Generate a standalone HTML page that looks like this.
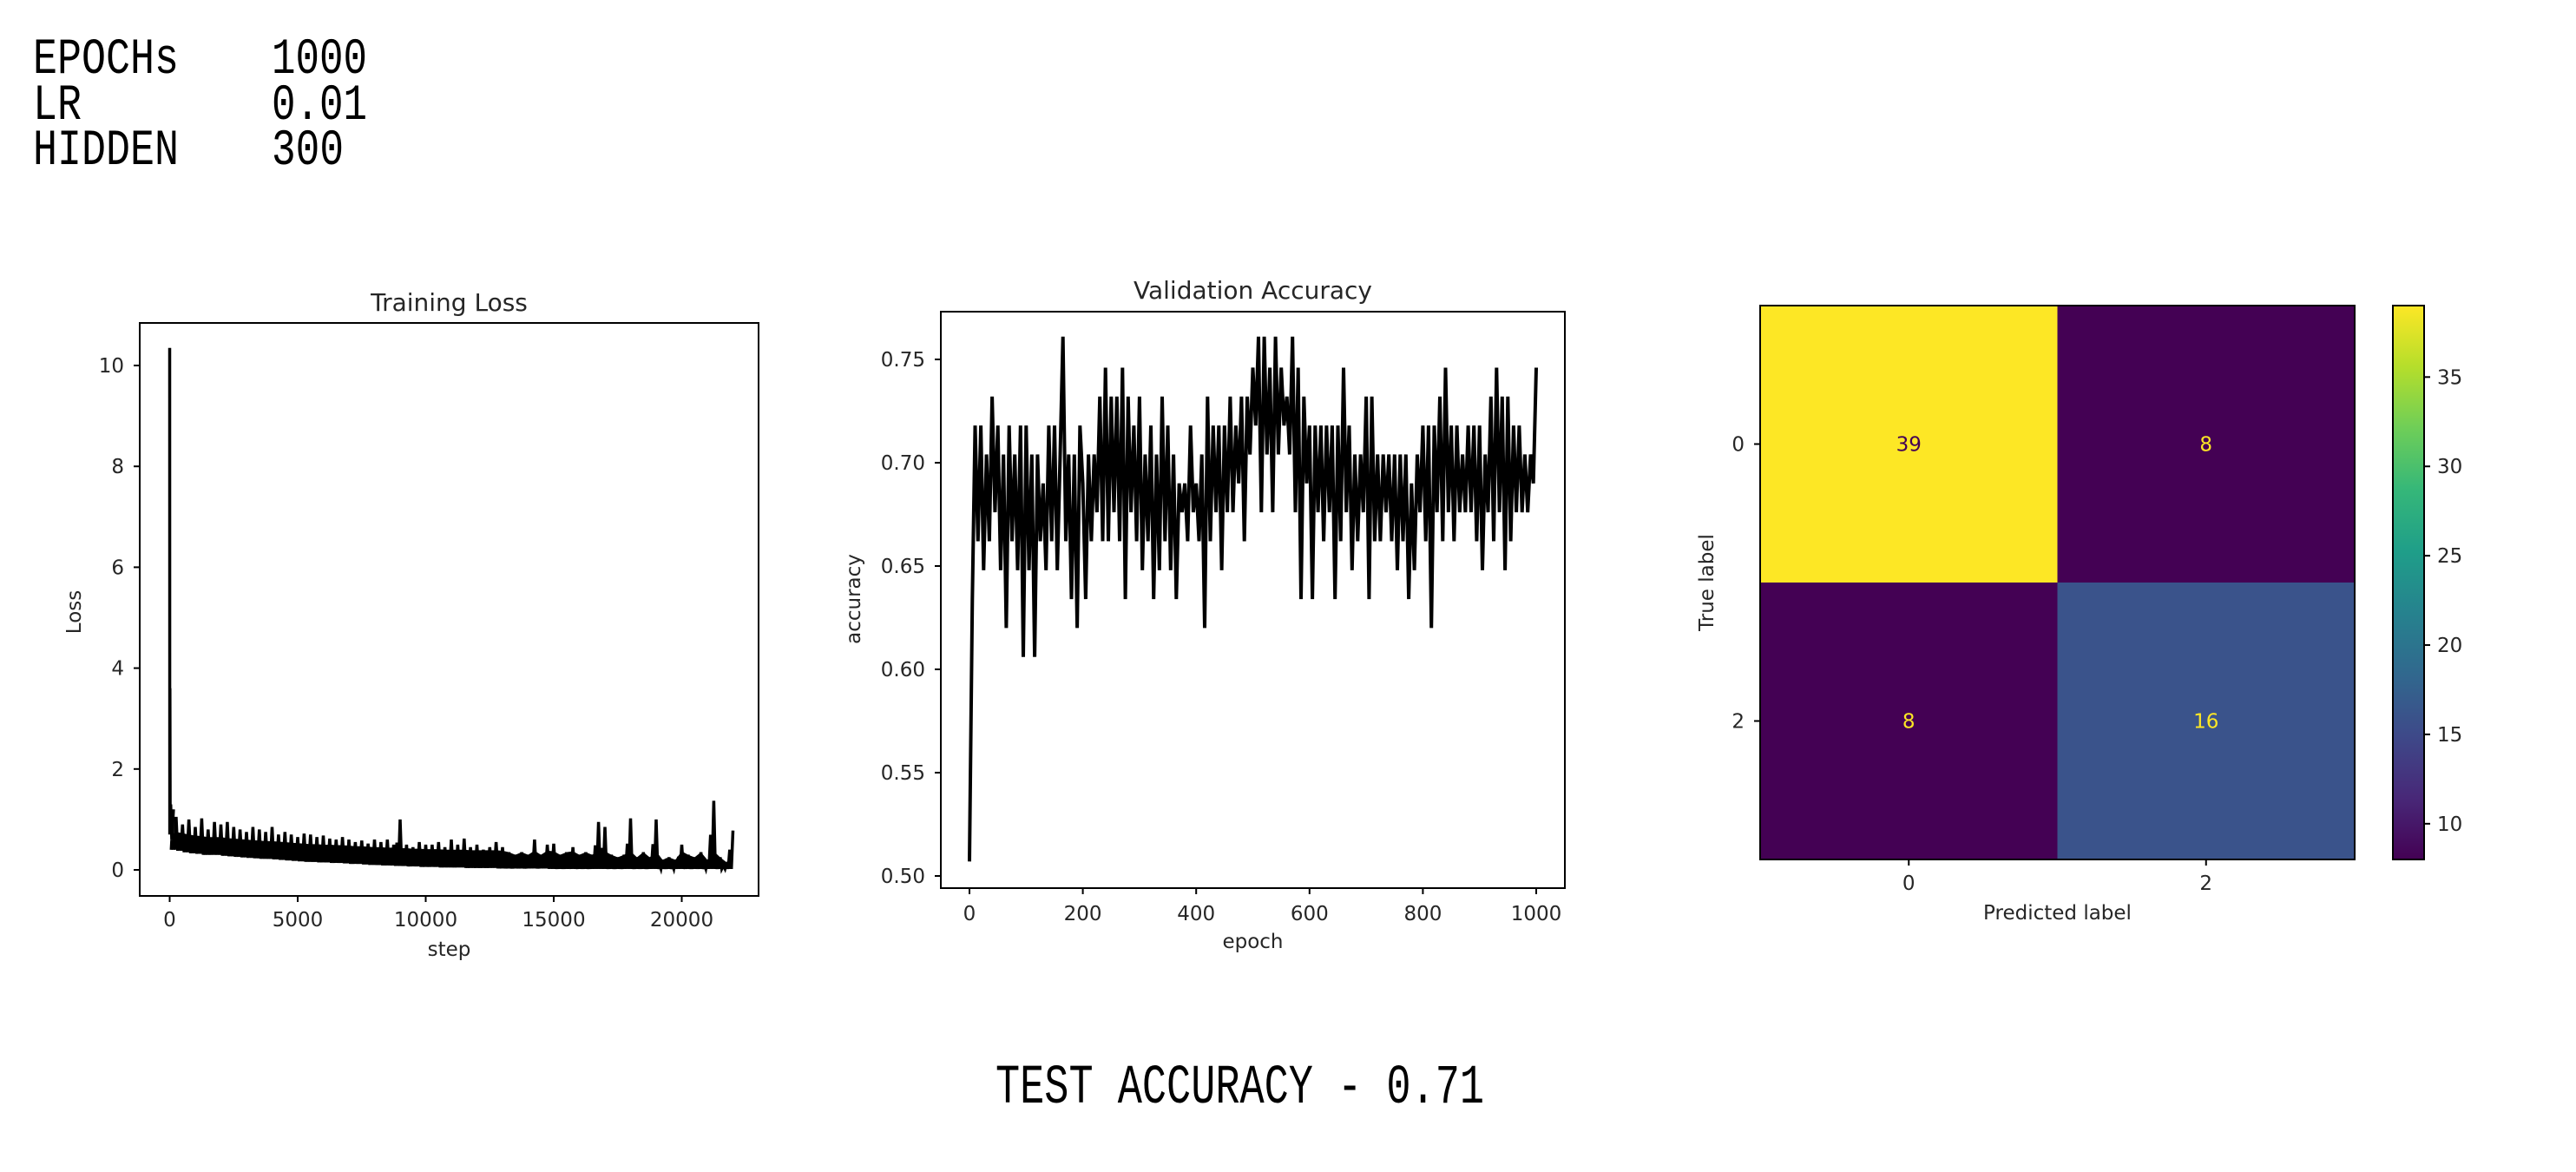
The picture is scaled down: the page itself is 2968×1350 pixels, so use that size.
<!DOCTYPE html>
<html><head><meta charset="utf-8"><style>
html,body{margin:0;padding:0;background:#fff;}
svg{display:block;}
text{font-family:"DejaVu Sans","Liberation Sans",sans-serif;fill:#262626;}
.mono{font-family:"Liberation Mono",monospace;fill:#000;}
</style></head><body>
<svg id="root" width="2968" height="1350" viewBox="0 0 2968 1350" xmlns="http://www.w3.org/2000/svg">
<g>
<text class="mono" x="38" y="84" font-size="58" textLength="168" lengthAdjust="spacingAndGlyphs">EPOCHs</text>
<text class="mono" x="313" y="84" font-size="58" textLength="110" lengthAdjust="spacingAndGlyphs">1000</text>
<text class="mono" x="38" y="137" font-size="58" textLength="56" lengthAdjust="spacingAndGlyphs">LR</text>
<text class="mono" x="313" y="137" font-size="58" textLength="110" lengthAdjust="spacingAndGlyphs">0.01</text>
<text class="mono" x="38" y="189" font-size="58" textLength="168" lengthAdjust="spacingAndGlyphs">HIDDEN</text>
<text class="mono" x="313" y="189" font-size="58" textLength="83" lengthAdjust="spacingAndGlyphs">300</text>
</g>
<text class="mono" x="1147" y="1270" font-size="64" textLength="563" lengthAdjust="spacingAndGlyphs">TEST ACCURACY - 0.71</text>
<g id="loss"></g>
<g id="acc"></g>
<g id="cm"></g>
</svg>
<script>
// ---- Training loss data ----
const lossHeadSteps = [0, 5, 10, 20, 40, 80, 150];
const lossHeadValues = [10.35, 0.7, 3.6, 0.9, 1.3, 0.6, 1.2];
const lossStepInterval = 250;
const lossHigh = [
1.05,0.9,1.0,0.85,1.02,0.8,0.95,0.9,
0.95,0.85,0.8,0.75,0.85,0.8,0.75,0.85,
0.7,0.75,0.7,0.65,0.72,0.7,0.65,0.68,
0.62,0.6,0.65,0.6,0.55,0.58,0.52,0.6,
0.55,0.6,0.5,1.0,0.5,0.45,0.55,0.5,
0.5,0.55,0.45,0.6,0.5,0.62,0.45,0.5,
0.4,0.45,0.55,0.45,0.35,0.3,0.35,0.3,
0.6,0.3,0.5,0.52,0.3,0.35,0.45,0.3,
0.35,0.3,0.95,0.85,0.3,0.25,0.3,1.02,
0.25,0.35,0.25,1.0,0.2,0.25,0.2,0.5,
0.3,0.25,0.35,0.2,1.37,0.25,0.15,0.78];
const lossLow = [
0.4,0.38,0.35,0.33,0.32,0.3,0.3,0.3,
0.28,0.27,0.26,0.25,0.24,0.23,0.22,0.22,
0.21,0.2,0.19,0.18,0.17,0.16,0.16,0.15,
0.15,0.14,0.14,0.13,0.12,0.12,0.11,0.1,
0.1,0.09,0.09,0.08,0.08,0.07,0.07,0.06,
0.06,0.06,0.05,0.05,0.05,0.05,0.04,0.04,
0.04,0.04,0.04,0.03,0.03,0.03,0.03,0.03,
0.03,0.03,0.03,0.02,0.02,0.02,0.02,0.02,
0.02,0.02,0.02,0.02,0.02,0.02,0.02,0.02,
0.02,0.02,0.02,0.02,0.02,0.02,0.02,0.02,
0.02,0.02,0.02,0.02,0.02,0.02,0.02,0.02];
const lossXTicks = [0, 5000, 10000, 15000, 20000];
const lossYTicks = [0, 2, 4, 6, 8, 10];

// ---- Validation accuracy data (every 5 epochs) ----
const accEpochInterval = 5;
const accValues = [
0.507,0.634,0.718,0.662,0.718,0.648,0.704,0.662,0.732,0.676,
0.718,0.648,0.704,0.620,0.718,0.662,0.704,0.648,0.718,0.606,
0.718,0.648,0.704,0.606,0.704,0.662,0.690,0.648,0.718,0.662,
0.718,0.648,0.704,0.761,0.662,0.704,0.634,0.704,0.620,0.718,
0.690,0.634,0.704,0.662,0.704,0.676,0.732,0.662,0.746,0.662,
0.732,0.676,0.732,0.662,0.746,0.634,0.732,0.676,0.718,0.662,
0.732,0.648,0.704,0.662,0.718,0.634,0.704,0.648,0.732,0.662,
0.718,0.648,0.704,0.634,0.690,0.676,0.690,0.662,0.718,0.676,
0.690,0.662,0.704,0.620,0.732,0.662,0.718,0.676,0.718,0.648,
0.718,0.676,0.732,0.676,0.718,0.690,0.732,0.662,0.732,0.704,
0.746,0.718,0.761,0.676,0.761,0.704,0.746,0.676,0.761,0.704,
0.746,0.718,0.732,0.704,0.761,0.676,0.746,0.634,0.732,0.690,
0.718,0.634,0.718,0.676,0.718,0.662,0.718,0.676,0.718,0.634,
0.718,0.662,0.746,0.676,0.718,0.648,0.704,0.662,0.704,0.676,
0.732,0.634,0.732,0.662,0.704,0.662,0.704,0.676,0.704,0.662,
0.704,0.648,0.704,0.662,0.704,0.634,0.690,0.648,0.704,0.676,
0.718,0.662,0.718,0.620,0.718,0.676,0.732,0.662,0.746,0.676,
0.718,0.662,0.718,0.676,0.704,0.676,0.718,0.676,0.718,0.662,
0.718,0.648,0.704,0.676,0.732,0.662,0.746,0.676,0.732,0.648,
0.732,0.662,0.718,0.676,0.718,0.676,0.704,0.676,0.704,0.690,
0.746];
const accXTicks = [0, 200, 400, 600, 800, 1000];
const accYTicks = [0.50, 0.55, 0.60, 0.65, 0.70, 0.75];

// ---- Confusion matrix data ----
const cmLabels = ["0", "2"];
const cmValues = [[39, 8], [8, 16]];
const cbTicks = [10, 15, 20, 25, 30, 35];

const NS = "http://www.w3.org/2000/svg";
function mk(parent, tag, attrs, text) {
  const e = document.createElementNS(NS, tag);
  for (const k in attrs) e.setAttribute(k, attrs[k]);
  if (text !== undefined) e.textContent = text;
  parent.appendChild(e);
  return e;
}

// ===== Training loss =====
(function(){
  const g = document.getElementById('loss');
  const L = 161, R = 874, T = 372, B = 1032;
  const xL = s => 195.5 + s * 147.5 / 5000;
  const yL = v => 1002 - v * 58.1;
  let pts = [];
  for (let i = 0; i < lossHeadSteps.length; i++) pts.push([xL(lossHeadSteps[i]), yL(lossHeadValues[i])]);
  const n = lossHigh.length;
  for (let i = 0; i < n; i++) {
    const s = (i + 1) * lossStepInterval;
    pts.push([xL(s - lossStepInterval * 0.75), yL(lossLow[i])]);
    pts.push([xL(s - lossStepInterval * 0.5), yL((lossHigh[i] + lossLow[i]) / 2)]);
    pts.push([xL(s - lossStepInterval * 0.25), yL(lossLow[i])]);
    pts.push([xL(s), yL(lossHigh[i])]);
  }
  // band fill
  let band = [];
  for (let i = 0; i < n; i++) band.push([xL((i + 1) * lossStepInterval), yL(Math.min(lossHigh[i], lossLow[i] + 0.35))]);
  for (let i = n - 1; i >= 0; i--) band.push([xL((i + 1) * lossStepInterval), yL(lossLow[i])]);
  const bandEl = mk(g, 'polygon', {points: band.map(p => p.join(',')).join(' '), fill: '#000'});
  
  
  const line = mk(g, 'polyline', {points: pts.map(p => p[0].toFixed(1) + ',' + p[1].toFixed(1)).join(' '), fill: 'none', stroke: '#000', 'stroke-width': 3.5, 'stroke-linejoin': 'miter'});
  
  
  const frame = mk(g, 'rect', {x: L, y: T, width: R - L, height: B - T, fill: 'none', stroke: '#000', 'stroke-width': 2});
  
  
  lossXTicks.forEach(t => {
    mk(g, 'line', {x1: xL(t), x2: xL(t), y1: B, y2: B + 7, stroke: '#000', 'stroke-width': 2});
    const tx = mk(g, 'text', {x: xL(t), y: B + 35, 'font-size': 23, 'text-anchor': 'middle'}, String(t));
    
    
  });
  lossYTicks.forEach(t => {
    mk(g, 'line', {x1: L - 7, x2: L, y1: yL(t), y2: yL(t), stroke: '#000', 'stroke-width': 2});
    const tx = mk(g, 'text', {x: L - 18, y: yL(t) + 8, 'font-size': 23, 'text-anchor': 'end'}, String(t));
    
    
  });
  const title = mk(g, 'text', {x: (L + R) / 2, y: 358, 'font-size': 28, 'text-anchor': 'middle'}, 'Training Loss');
  
  
  const xl = mk(g, 'text', {x: (L + R) / 2, y: 1101, 'font-size': 23, 'text-anchor': 'middle'}, 'step');
  
  
  const yl = mk(g, 'text', {x: 0, y: 0, 'font-size': 23, 'text-anchor': 'middle', transform: 'translate(93,705) rotate(-90)'}, 'Loss');
  
  
})();

// ===== Validation accuracy =====
(function(){
  const g = document.getElementById('acc');
  const L = 1084, R = 1803, T = 359, B = 1023;
  const xA = e => 1117 + e * 0.653;
  const yA = v => 1009 - (v - 0.5) * 2380;
  let pts = [];
  for (let i = 0; i < accValues.length; i++) {
    const e = i * accEpochInterval;
    pts.push(xA(e).toFixed(1) + ',' + yA(accValues[i]).toFixed(1));
  }
  const line = mk(g, 'polyline', {points: pts.join(' '), fill: 'none', stroke: '#000', 'stroke-width': 4});
  
  
  const frame = mk(g, 'rect', {x: L, y: T, width: R - L, height: B - T, fill: 'none', stroke: '#000', 'stroke-width': 2});
  
  
  accXTicks.forEach(t => {
    mk(g, 'line', {x1: xA(t), x2: xA(t), y1: B, y2: B + 7, stroke: '#000', 'stroke-width': 2});
    const tx = mk(g, 'text', {x: xA(t), y: B + 37, 'font-size': 23, 'text-anchor': 'middle'}, String(t));
    
    
  });
  accYTicks.forEach(t => {
    mk(g, 'line', {x1: L - 7, x2: L, y1: yA(t), y2: yA(t), stroke: '#000', 'stroke-width': 2});
    const tx = mk(g, 'text', {x: L - 18, y: yA(t) + 8, 'font-size': 23, 'text-anchor': 'end'}, t.toFixed(2));
    
    
  });
  const title = mk(g, 'text', {x: (L + R) / 2, y: 344, 'font-size': 28, 'text-anchor': 'middle'}, 'Validation Accuracy');
  
  
  const xl = mk(g, 'text', {x: (L + R) / 2, y: 1092, 'font-size': 23, 'text-anchor': 'middle'}, 'epoch');
  
  
  const yl = mk(g, 'text', {x: 0, y: 0, 'font-size': 23, 'text-anchor': 'middle', transform: 'translate(991,690) rotate(-90)'}, 'accuracy');
  
  
})();

// ===== Confusion matrix =====
const viridisStops = ['#440154','#482878','#3e4989','#31688e','#26828e','#1f9e89','#35b779','#6ece58','#b5de2b','#fde725'];
function hex2rgb(h){return [parseInt(h.slice(1,3),16),parseInt(h.slice(3,5),16),parseInt(h.slice(5,7),16)];}
function viridis(t){
  t = Math.max(0, Math.min(1, t));
  const p = t * (viridisStops.length - 1), i = Math.min(Math.floor(p), viridisStops.length - 2), f = p - i;
  const a = hex2rgb(viridisStops[i]), b = hex2rgb(viridisStops[i + 1]);
  return 'rgb(' + a.map((v, k) => Math.round(v + (b[k] - v) * f)).join(',') + ')';
}
(function(){
  const g = document.getElementById('cm');
  const L = 2028, R = 2713, T = 352, B = 990;
  const all = cmValues.flat();
  const vmin = Math.min(...all), vmax = Math.max(...all);
  const nr = cmValues.length, nc = cmValues[0].length;
  const cw = (R - L) / nc, ch = (B - T) / nr;
  for (let r = 0; r < nr; r++) for (let c = 0; c < nc; c++) {
    const v = cmValues[r][c], t = (v - vmin) / (vmax - vmin);
    const cell = mk(g, 'rect', {x: L + c * cw, y: T + r * ch, width: cw, height: ch, fill: viridis(t)});
    
    
    const tx = mk(g, 'text', {x: L + (c + 0.5) * cw, y: T + (r + 0.5) * ch + 8, 'font-size': 23, 'text-anchor': 'middle'}, String(v));
    tx.style.fill = t > 0.5 ? '#440154' : '#fde725';
    
    
  }
  const frame = mk(g, 'rect', {x: L, y: T, width: R - L, height: B - T, fill: 'none', stroke: '#000', 'stroke-width': 2});
  
  
  cmLabels.forEach((lab, i) => {
    const x = L + (i + 0.5) * cw, y = T + (i + 0.5) * ch;
    mk(g, 'line', {x1: x, x2: x, y1: B, y2: B + 7, stroke: '#000', 'stroke-width': 2});
    const tx = mk(g, 'text', {x: x, y: B + 35, 'font-size': 23, 'text-anchor': 'middle'}, lab);
    
    
    mk(g, 'line', {x1: L - 7, x2: L, y1: y, y2: y, stroke: '#000', 'stroke-width': 2});
    const ty = mk(g, 'text', {x: L - 18, y: y + 8, 'font-size': 23, 'text-anchor': 'end'}, lab);
    
    
  });
  const xl = mk(g, 'text', {x: (L + R) / 2, y: 1059, 'font-size': 23, 'text-anchor': 'middle'}, 'Predicted label');
  
  
  const yl = mk(g, 'text', {x: 0, y: 0, 'font-size': 23, 'text-anchor': 'middle', transform: 'translate(1974,671) rotate(-90)'}, 'True label');
  
  
  // colorbar
  const CL = 2757, CR = 2793;
  const defs = mk(g, 'defs', {});
  const grad = mk(defs, 'linearGradient', {id: 'vir', x1: 0, y1: 1, x2: 0, y2: 0});
  viridisStops.forEach((c, i) => mk(grad, 'stop', {offset: (i / (viridisStops.length - 1)), 'stop-color': c}));
  const cb = mk(g, 'rect', {x: CL, y: T, width: CR - CL, height: B - T, fill: 'url(#vir)', stroke: '#000', 'stroke-width': 2});
  
  
  const yC = v => B - (v - vmin) / (vmax - vmin) * (B - T);
  cbTicks.forEach(t => {
    mk(g, 'line', {x1: CR, x2: CR + 7, y1: yC(t), y2: yC(t), stroke: '#000', 'stroke-width': 2});
    const tx = mk(g, 'text', {x: CR + 15, y: yC(t) + 8, 'font-size': 23}, String(t));
    
    
  });
})();
</script>
</body></html>
